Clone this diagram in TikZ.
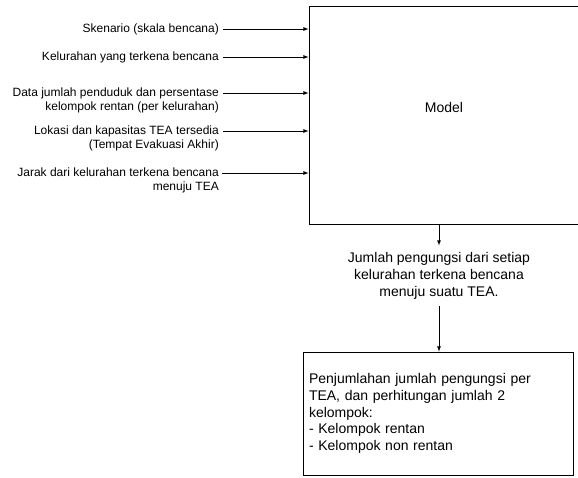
\documentclass[tikz,border=0pt]{standalone}
\usepackage{fontspec}
\setmainfont{Liberation Sans}
\usepackage{tikz}
\usetikzlibrary{positioning}

\begin{document}
\begin{tikzpicture}
    [
    x=1pt,y=-1pt,
    input/.style={anchor=north east,inner sep=0pt,align=right,font=\fontsize{12}{14}\selectfont},
    box/.style={draw,line width=0.8pt},
    txt/.style={inner sep=0pt,font=\fontsize{14}{16.8}\selectfont},
    flow/.style={-latex,line width=0.8pt},
    ]
    \useasboundingbox (0,0) rectangle (578,477);
    \clip (0,0) rectangle (578,477);

    % model block (right side runs off the page)
    \node (model) at (451.5,115) [box,minimum width=285pt,minimum height=218pt] {};
    \node (mtext) at (444,107) [txt] {Model};

    % inputs
    \node (in1) at (219,24) [input] {Skenario (skala bencana)};
    \node (in2) at (219,52) [input] {Kelurahan yang terkena bencana};
    \node (in3) at (219,88) [input] {Data jumlah penduduk dan persentase\\kelompok rentan (per kelurahan)};
    \node (in4) at (219,126) [input] {Lokasi dan kapasitas TEA tersedia\\(Tempat Evakuasi Akhir)};
    \node (in5) at (219,168) [input] {Jarak dari kelurahan terkena bencana\\menuju TEA};
    \coordinate (a1) at ([xshift=4pt,yshift=-5pt]in1.north east);
    \coordinate (a2) at ([xshift=4pt,yshift=-5pt]in2.north east);
    \coordinate (a3) at ([xshift=4pt,yshift=-5pt]in3.north east);
    \coordinate (a4) at ([xshift=4pt,yshift=-5pt]in4.north east);
    \coordinate (a5) at ([xshift=3pt,yshift=-5pt]in5.north east);
    \draw [flow] (a1) -- (a1 -| model.west);
    \draw [flow] (a2) -- (a2 -| model.west);
    \draw [flow] (a3) -- (a3 -| model.west);
    \draw [flow] (a4) -- (a4 -| model.west);
    \draw [flow] (a5) -- (a5 -| model.west);

    % output of the model
    \node (result) at (439,276) [txt,align=center] {Jumlah pengungsi dari setiap\\kelurahan terkena bencana\\menuju suatu TEA.};
    \node (sum) at (438,413.5) [box,txt,align=left,text width=258pt,minimum height=123pt,inner sep=6pt]
        {Penjumlahan jumlah pengungsi per\\TEA, dan perhitungan jumlah 2\\kelompok:\\- Kelompok rentan\\- Kelompok non rentan};
    \coordinate (r1) at ([yshift=7pt]result.north);
    \coordinate (r2) at ([yshift=-6pt]result.south);
    \draw [flow] (r1 |- model.south) -- (r1);
    \draw [flow] (r2) -- (r2 |- sum.north);
  \end{tikzpicture}
\end{document}
